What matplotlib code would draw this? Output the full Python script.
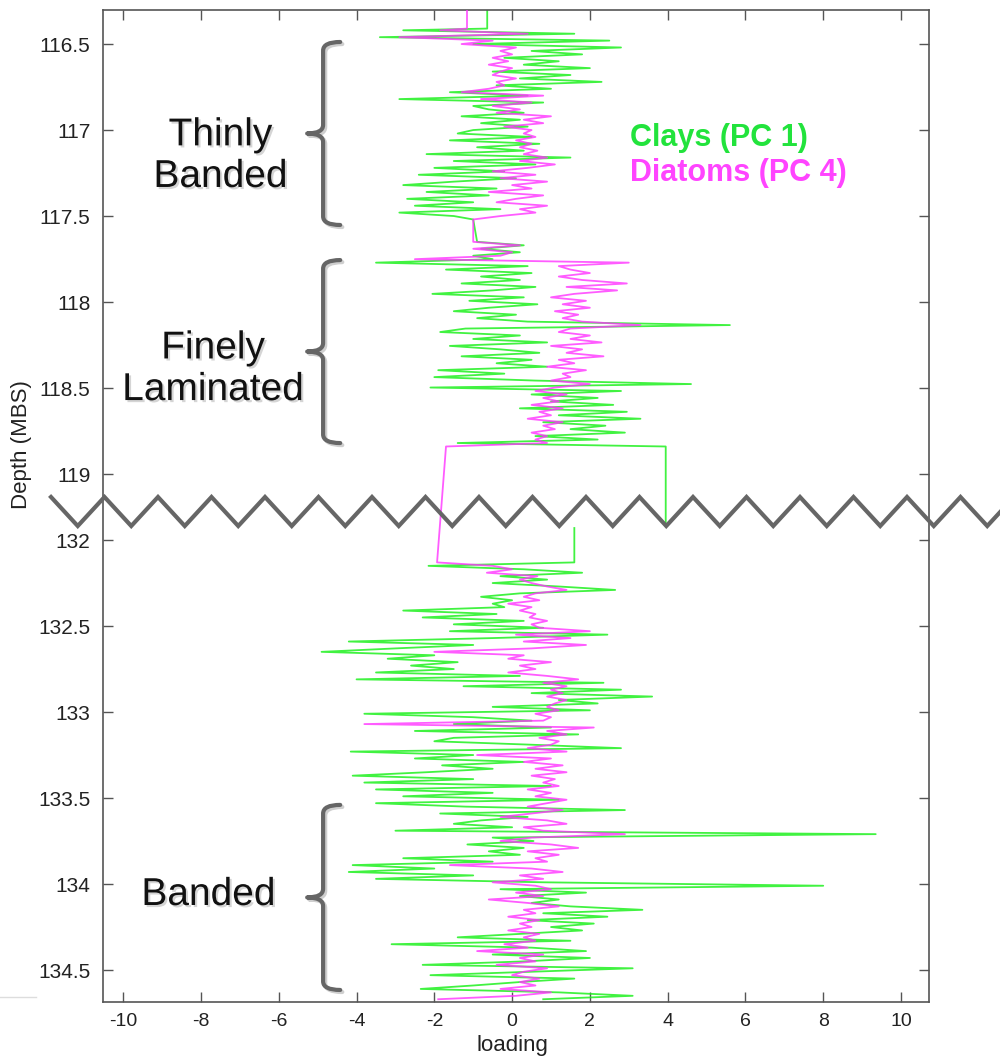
import numpy as np
import matplotlib
matplotlib.use('Agg')
import matplotlib.pyplot as plt
import matplotlib.patheffects as pe
from matplotlib.path import Path
from matplotlib.patches import PathPatch
from matplotlib.lines import Line2D

plt.rcParams['font.family'] = ['Liberation Sans', 'DejaVu Sans']

# core intervals (depth in m below surface), evenly sampled
top_start, top_end = 116.42, 117.52
mid_start, mid_end = 117.65, 118.84
low_start, low_end = 132.13, 134.67

# PC 1 (clays) and PC 4 (diatoms) loadings per interval
clay_top = [-2.8, 1.6, -3.4, 2.5, -1.0, 2.8,
            0.5, 1.8, -0.2, 1.2, 0.3, 2.0, -0.5, 1.5, 0.2, 2.3, -0.4, 1.0,
            -1.6, 0.4, -2.9, 0.8, -1.0,
            -0.6, 0.3, -1.3, 0.2, -0.8, 0.4, -1.0,
            -1.4, 0.5, -1.6, 0.7, -0.9, 0.3, -2.2,
            1.5, -1.5, 0.6,
            -2.0, -0.2, -2.4, 0.1, -1.5, -2.8, -0.4, -2.2, -0.6, -2.7, -1.0, -2.5, -0.3, -2.9, -1.5, -1.0]
diatom_top = [-1.85, 0.4, -2.9, -0.5, -1.3, 0.1,
              -0.3, 0.0, -0.5, -0.1, -0.6, 0.0, -0.3, -0.5, 0.1, -0.4, -0.2, -0.6,
              -1.3, 0.8, -0.8, 0.5, -0.5,
              0.2, -0.4, 1.0, 0.3, 0.8, -0.2, 0.5,
              0.3, 0.6, 0.1, 0.5, 0.2, 0.65, 0.3,
              0.9, 0.2, 1.1,
              0.4, -0.5, 0.6, -0.3, 0.9, 0.0, 0.5, -0.6, 0.8, 0.1, -0.4, 0.9, 0.2, 0.6, -0.3, -1.0]

clay_mid = [-0.9, 0.3, -0.8, 0.2, -1.0,
            -0.5, -3.5, 0.4,
            -1.7, 0.5, -0.8, 0.2, -1.3, 0.6, -0.5, -2.05, 0.3, -1.1, 0.65, -0.6, -1.5, 0.1, -0.9,
            0.4, 5.6, -1.2,
            -1.85, 0.2, -1.0, 0.9, -1.6, -0.3, 0.7, -1.3, 0.5, -0.4, 0.9, -1.9, -0.2, -2.0, 0.6, 4.6,
            -2.1, 2.8, 0.5, 2.2, 1.0, 2.6, 0.2, 2.95, 1.2, 3.3, 0.8, 2.4, 1.5, 2.9, 0.6, 2.2, -1.4, 3.95]
diatom_mid = [-1.0, 0.2, -1.0, 0.0, -0.3,
              -2.5, 3.0, 1.2,
              1.5, 2.0, 1.2, 1.8, 2.95, 1.4, 2.7, 1.6, 1.0, 1.9, 1.3, 2.0, 1.1, 1.7, 1.3,
              1.8, 3.3, 1.5,
              1.2, 2.0, 1.5, 2.3, 1.0, 1.8, 1.4, 2.35, 1.2, 1.6, 0.9, 1.9, 1.3, 1.5, 1.0, 2.0,
              1.1, 0.6, 1.4, 0.8, 1.2, 0.5, 1.3, 0.7, 1.0, 0.4, 1.3, 0.8, 1.1, 0.5, 0.9, 0.6, 0.9, -1.7]

clay_low = [1.6, -2.15, 0.3, 1.8, -0.3, 0.9, -0.5, 1.2, 2.65, 0.2,
            -0.8, 0.0, -0.5, -0.2, -2.8, -0.4, -2.3, 0.3, -1.5, 0.8,
            -1.6, 2.45, -0.5, -4.2, -1.0, -3.0, -4.9, -2.0, -3.2, -1.4,
            -2.6, -1.5, -3.5, 0.2, -4.0, 2.35, -1.25, 2.8, 0.5, 3.6,
            1.2, 2.2, -0.5, 2.0, -3.8, -1.0, 0.5, -1.5, 1.0, -2.5,
            1.7, -1.5, -2.0, 0.5, 2.8, -4.15, -1.0, -2.5, 0.3, -1.8,
            -0.5, -2.2, -4.1, -1.0, -3.8, 1.0, -3.5, -0.5, -2.8, 1.2,
            -3.5, -1.2, 2.9, -1.85, 0.4, -0.8, -1.5, 0.0, -3.0, 9.35,
            -0.5, 0.55, -1.15, 0.3, -0.6, 0.2, -2.8, -0.5, -4.1, -2.0,
            -4.2, -1.0, -3.5, 0.8, 8.0, -0.3, 1.9, 0.2, 1.2, 0.5,
            1.5, 3.35, 0.8, 2.45, 0.4, 2.1, 1.0, 1.8, 0.2, -1.4,
            1.5, -3.1, 0.5, 1.9, -0.5, 2.0, 0.3, -2.3, 3.1, 0.5,
            -2.1, 1.6, 0.2, -1.0, -2.35, 1.2, 3.1, 0.8]
diatom_low = [-1.93, -0.5, 0.0, -0.65, 0.65, 0.2, 0.5, 0.9, 1.4, 0.6,
              0.3, 0.7, -0.1, 0.5, 0.2, 0.6, 0.45, 0.9, 0.5, 0.7,
              2.0, 0.1, 1.5, 0.3, 1.9, 0.5, -2.0, 0.3, -0.1, 1.0,
              0.2, 0.6, -0.1, 0.9, 1.7, 0.8, 1.4, 1.0, 1.3, 0.9,
              1.4, 1.1, 0.9, 1.2, 0.6, 1.0, 0.8, -3.8, 2.1, 0.9,
              1.4, 0.7, 1.2, 1.0, 0.4, 1.4, -0.9, 1.0, 0.3, 1.3,
              0.6, 1.4, 0.5, 1.1, 0.8, 1.2, 0.4, 1.0, 0.6, 1.4,
              0.9, 0.4, 1.3, 0.5, -0.3, 0.9, 1.4, 0.3, 0.8, 2.9,
              0.5, -0.3, 1.0, 1.7, 0.4, 1.2, 0.6, 0.9, -1.6, 0.5,
              1.3, 0.2, 0.8, -0.5, 0.6, 1.0, 0.1, 0.8, -0.6, 0.4,
              1.2, 0.3, 0.6, -0.1, 0.7, 0.2, 0.5, -0.1, 0.7, 0.3,
              0.6, -0.2, 0.4, -0.9, 0.8, 0.2, 0.6, -0.4, 0.9, 0.3,
              0.0, 0.7, 0.2, 0.6, -0.3, 1.0, 0.1, -1.9]

# samples above the plotted window and across the gap
lead_depth = [116.20, 116.41]
clay_lead = [-0.64, -0.64]
diatom_lead = [-1.16, -1.16]
clay_gap_depth = [119.30, 131.93]
clay_gap = [3.95, 1.6]

depth_ticks = [116.5, 117, 117.5, 118, 118.5, 119, 132, 132.5, 133, 133.5, 134, 134.5]
loading_ticks = [-10, -8, -6, -4, -2, 0, 2, 4, 6, 8, 10]

# facies brackets: (label, top depth, bottom depth, label x, label baseline depth)
facies = [('Thinly\nBanded', 116.488, 117.552, -7.5, 117.331),
          ('Finely\nLaminated', 117.756, 118.82, -7.69, 118.57),
          ('Banded', 133.54, 134.616, -7.81, 134.122)]

GAP = 12.616  # depth removed between 119 and 132 m


def squash(d):
    d = np.asarray(d, dtype=float)
    return np.where(d > 125, d - GAP, d)


d_top = np.linspace(top_start, top_end, len(clay_top))
d_mid = np.linspace(mid_start, mid_end, len(clay_mid))
d_low = np.linspace(low_start, low_end, len(clay_low))

clay_d = np.concatenate([lead_depth, d_top, d_mid, [clay_gap_depth[0], np.nan, clay_gap_depth[1]], d_low])
clay_v = np.concatenate([clay_lead, clay_top, clay_mid, [clay_gap[0], np.nan, clay_gap[1]], clay_low])
diat_d = np.concatenate([lead_depth, d_top, d_mid, d_low])
diat_v = np.concatenate([diatom_lead, diatom_top, diatom_mid, diatom_low])

W, H = 1000, 1057
fig = plt.figure(figsize=(W / 100, H / 100), dpi=100)
ax = fig.add_axes([0.103, 1 - 1002 / H, 0.826, 992 / H])

green = '#1ff01f'
magenta = '#ff33ff'
ax.plot(clay_v, squash(clay_d), color=green, lw=1.3, alpha=0.85, zorder=2)
ax.plot(diat_v, squash(diat_d), color=magenta, lw=1.3, alpha=0.8, zorder=3)

ax.set_xlim(-10.52, 10.72)
ax.set_ylim(122.07, 116.302)
ax.set_xticks(loading_ticks)
ax.set_xticklabels([str(t) for t in loading_ticks])
ax.set_yticks(squash(depth_ticks))
ax.set_yticklabels(['%g' % t for t in depth_ticks])
ax.tick_params(direction='in', length=7, width=1, top=True, right=True,
               colors='#555555', labelcolor='#222222')
ax.tick_params(axis='y', labelsize=15, pad=9)
ax.tick_params(axis='x', labelsize=14, pad=8)
for s in ax.spines.values():
    s.set_color('#555555')
    s.set_linewidth(1.2)

fig.text(0.512, 1 - 1045 / H, 'loading', ha='center', va='center', fontsize=16, color='#222222')
fig.text(0.022, 1 - 445 / H, 'Depth (MBS)', ha='center', va='center', rotation=90,
         fontsize=16, color='#222222')

# facies brackets and names
shadow_txt = [pe.withSimplePatchShadow(offset=(1.5, -1.5), shadow_rgbFace='#888888', alpha=0.35)]
shadow_ln = [pe.SimpleLineShadow(offset=(1.5, -1.5), shadow_color='#777777', alpha=0.35), pe.Normal()]
x_tip, x_v, x_end, r = -5.27, -4.86, -4.42, 0.05
for name, d0, d1, tx, ty in facies:
    y0, y1 = squash(d0), squash(d1)
    ym = (y0 + y1) / 2
    verts = [(x_end, y0), (x_v, y0), (x_v, y0 + r),
             (x_v, ym - r), (x_v, ym), (x_tip, ym),
             (x_v, ym), (x_v, ym + r),
             (x_v, y1 - r), (x_v, y1), (x_end, y1)]
    codes = [Path.MOVETO, Path.CURVE3, Path.CURVE3,
             Path.LINETO, Path.CURVE3, Path.CURVE3,
             Path.CURVE3, Path.CURVE3,
             Path.LINETO, Path.CURVE3, Path.CURVE3]
    brace = PathPatch(Path(verts, codes), fill=False, edgecolor='#666666', lw=3,
                      capstyle='round', joinstyle='round', zorder=5)
    brace.set_path_effects(shadow_ln)
    ax.add_patch(brace)
    ax.text(tx, squash(ty), name, ha='center', va='baseline', fontsize=28,
            color='#111111', linespacing=1.2, path_effects=shadow_txt, zorder=6)

ax.text(3.03, 117.093, 'Clays (PC 1)', color='#22e33c', fontsize=22,
        fontweight='bold', va='baseline', zorder=6)
ax.text(3.03, 117.297, 'Diatoms (PC 4)', color='#ff44ff', fontsize=22,
        fontweight='bold', va='baseline', zorder=6)

# axis break marker across the whole figure
period = 53.5
zx = 51 + period / 2 * np.arange(38)
zy = np.where(np.arange(38) % 2 == 0, 497, 526)
fig.add_artist(Line2D(zx / W, 1 - zy / H, color='#666666', lw=3, zorder=10,
                      solid_joinstyle='miter', transform=fig.transFigure))
fig.add_artist(Line2D([0, 0.036], [1 - 997 / H] * 2, color='#dddddd', lw=1,
                      transform=fig.transFigure))

fig.savefig('out.png', dpi=100)
